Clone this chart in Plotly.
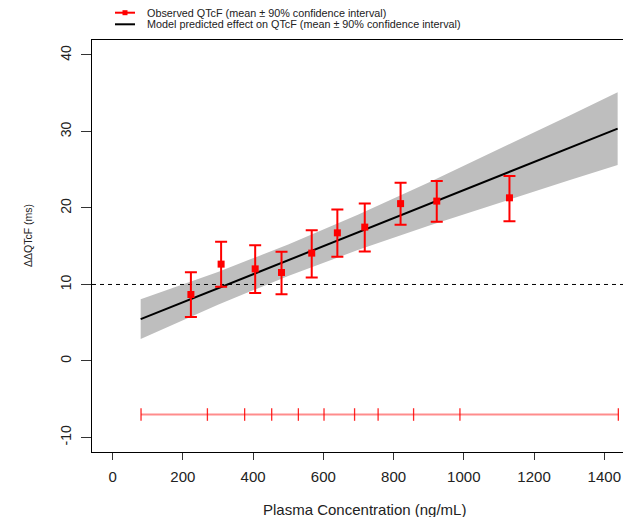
import plotly.graph_objects as go

# ---- data ----
obs_conc = [223, 309, 406, 481, 567, 640, 718, 820, 923, 1130]
obs_mean = [8.69, 12.66, 12.04, 11.57, 14.10, 16.75, 17.50, 20.57, 20.90, 21.33]
obs_upper = [11.61, 15.57, 15.14, 14.27, 17.10, 19.81, 20.60, 23.29, 23.53, 24.17]
obs_lower = [5.76, 9.69, 8.90, 8.73, 10.92, 13.61, 14.32, 17.82, 18.19, 18.28]

model_conc = [80, 300, 500, 700, 900, 1100, 1300, 1438]
model_mean = [5.47, 9.50, 13.17, 16.84, 20.51, 24.17, 27.84, 30.37]
model_lower = [2.87, 7.36, 11.12, 14.53, 17.68, 20.68, 23.61, 25.61]
model_upper = [8.07, 11.64, 15.22, 19.15, 23.34, 27.66, 32.07, 35.13]

bin_edges = [81, 270, 376, 453, 529, 602, 689, 756, 857, 989, 1440]
bin_y = -7
threshold = 10

x_ticks = [0, 200, 400, 600, 800, 1000, 1200, 1400]
y_ticks = [-10, 0, 10, 20, 30, 40]
x_range = [-58.6, 1467.5]
y_range = [-11.9, 41.96]

legend_labels = ["Observed QTcF (mean \u00b1 90% confidence interval)",
                 "Model predicted effect on QTcF (mean \u00b1 90% confidence interval)"]

FONT = "Liberation Sans, Arial, sans-serif"

fig = go.Figure()

# confidence band
fig.add_trace(go.Scatter(x=model_conc, y=model_lower, mode="lines",
                         line=dict(width=0, color="#BEBEBE"), showlegend=False,
                         hoverinfo="skip"))
fig.add_trace(go.Scatter(x=model_conc, y=model_upper, mode="lines",
                         line=dict(width=0, color="#BEBEBE"), fill="tonexty",
                         fillcolor="#BEBEBE", showlegend=False, hoverinfo="skip"))

# reference dashed line
fig.add_trace(go.Scatter(x=x_range, y=[threshold, threshold], mode="lines",
                         line=dict(color="black", width=1, dash="4px,4px"),
                         showlegend=False, hoverinfo="skip"))

# model mean line
fig.add_trace(go.Scatter(x=model_conc, y=model_mean, mode="lines",
                         line=dict(color="black", width=2), showlegend=False))

# concentration bins
fig.add_trace(go.Scatter(x=bin_edges, y=[bin_y] * len(bin_edges), mode="lines+markers",
                         line=dict(color="rgba(255,0,0,0.45)", width=2),
                         marker=dict(symbol="line-ns", size=9,
                                     line=dict(color="rgba(255,0,0,0.85)", width=1.3)),
                         showlegend=False, hoverinfo="skip"))

# observed
fig.add_trace(go.Scatter(
    x=obs_conc, y=obs_mean, mode="markers",
    marker=dict(symbol="square", size=7, color="#FF0000"),
    error_y=dict(type="data", symmetric=False,
                 array=[u - m for u, m in zip(obs_upper, obs_mean)],
                 arrayminus=[m - l for m, l in zip(obs_mean, obs_lower)],
                 color="#FF0000", thickness=2, width=6),
    showlegend=False))

# ---- layout ----
# the page body has an 8px margin, so the figure is drawn 8px in from the corner
OFF = 8
W, H = 631 - OFF, 517 - OFF
L, R, T, B = 92 - OFF, 3, 40 - OFF, 65
pw, ph = W - L - R, H - T - B


def px_x(px):
    return (px - OFF - L) / pw


def px_y(py):
    return 1 + (T - (py - OFF)) / ph


shapes = []
annotations = []
# manual legend (decoration)
leg_rows = [12.7, 24.3]
shapes.append(dict(type="line", xref="paper", yref="paper",
                   x0=px_x(115), x1=px_x(135), y0=px_y(leg_rows[0]), y1=px_y(leg_rows[0]),
                   line=dict(color="#FF0000", width=2)))
shapes.append(dict(type="rect", xref="paper", yref="paper",
                   x0=px_x(122.5), x1=px_x(127.5), y0=px_y(leg_rows[0] + 2.5),
                   y1=px_y(leg_rows[0] - 2.5), line=dict(width=0), fillcolor="#FF0000"))
shapes.append(dict(type="line", xref="paper", yref="paper",
                   x0=px_x(115), x1=px_x(135), y0=px_y(leg_rows[1]), y1=px_y(leg_rows[1]),
                   line=dict(color="black", width=2)))
for row, lab in zip(leg_rows, legend_labels):
    annotations.append(dict(xref="paper", yref="paper", x=px_x(145), y=px_y(row),
                            xanchor="left", yanchor="middle", text=lab, showarrow=False,
                            font=dict(size=10.8, color="#222", family=FONT)))

annotations.append(dict(xref="paper", yref="paper", x=px_x(28), y=px_y(236),
                        xanchor="center", yanchor="middle", textangle=-90,
                        text="\u0394\u0394QTcF (ms)", showarrow=False,
                        font=dict(size=10.5, color="#222", family=FONT)))
annotations.append(dict(xref="paper", yref="paper", x=px_x(364), y=px_y(509),
                        xanchor="center", yanchor="middle",
                        text="Plasma Concentration (ng/mL)", showarrow=False,
                        font=dict(size=15, color="#222", family=FONT)))

fig.update_layout(
    width=W, height=H,
    margin=dict(l=L, r=R, t=T, b=B, pad=0),
    paper_bgcolor="white", plot_bgcolor="white",
    showlegend=False,
    font=dict(family=FONT, color="#222"),
    shapes=shapes, annotations=annotations,
    xaxis=dict(range=x_range, tickvals=x_ticks, ticktext=[str(v) for v in x_ticks],
               showgrid=False, zeroline=False, showline=True, linecolor="black",
               linewidth=1, mirror=True, ticks="outside", ticklen=7, tickwidth=1,
               tickcolor="#333", tickfont=dict(size=15, family=FONT, color="#222"),
               ticklabelstandoff=4),
    yaxis=dict(range=y_range, tickvals=y_ticks, ticktext=[str(v) for v in y_ticks],
               showgrid=False, zeroline=False, showline=True, linecolor="black",
               linewidth=1, mirror=True, ticks="outside", ticklen=10, tickwidth=1,
               tickcolor="#333", tickangle=-90,
               tickfont=dict(size=14, family=FONT, color="#222"),
               ticklabelstandoff=4),
)

fig.write_html("out.html")
